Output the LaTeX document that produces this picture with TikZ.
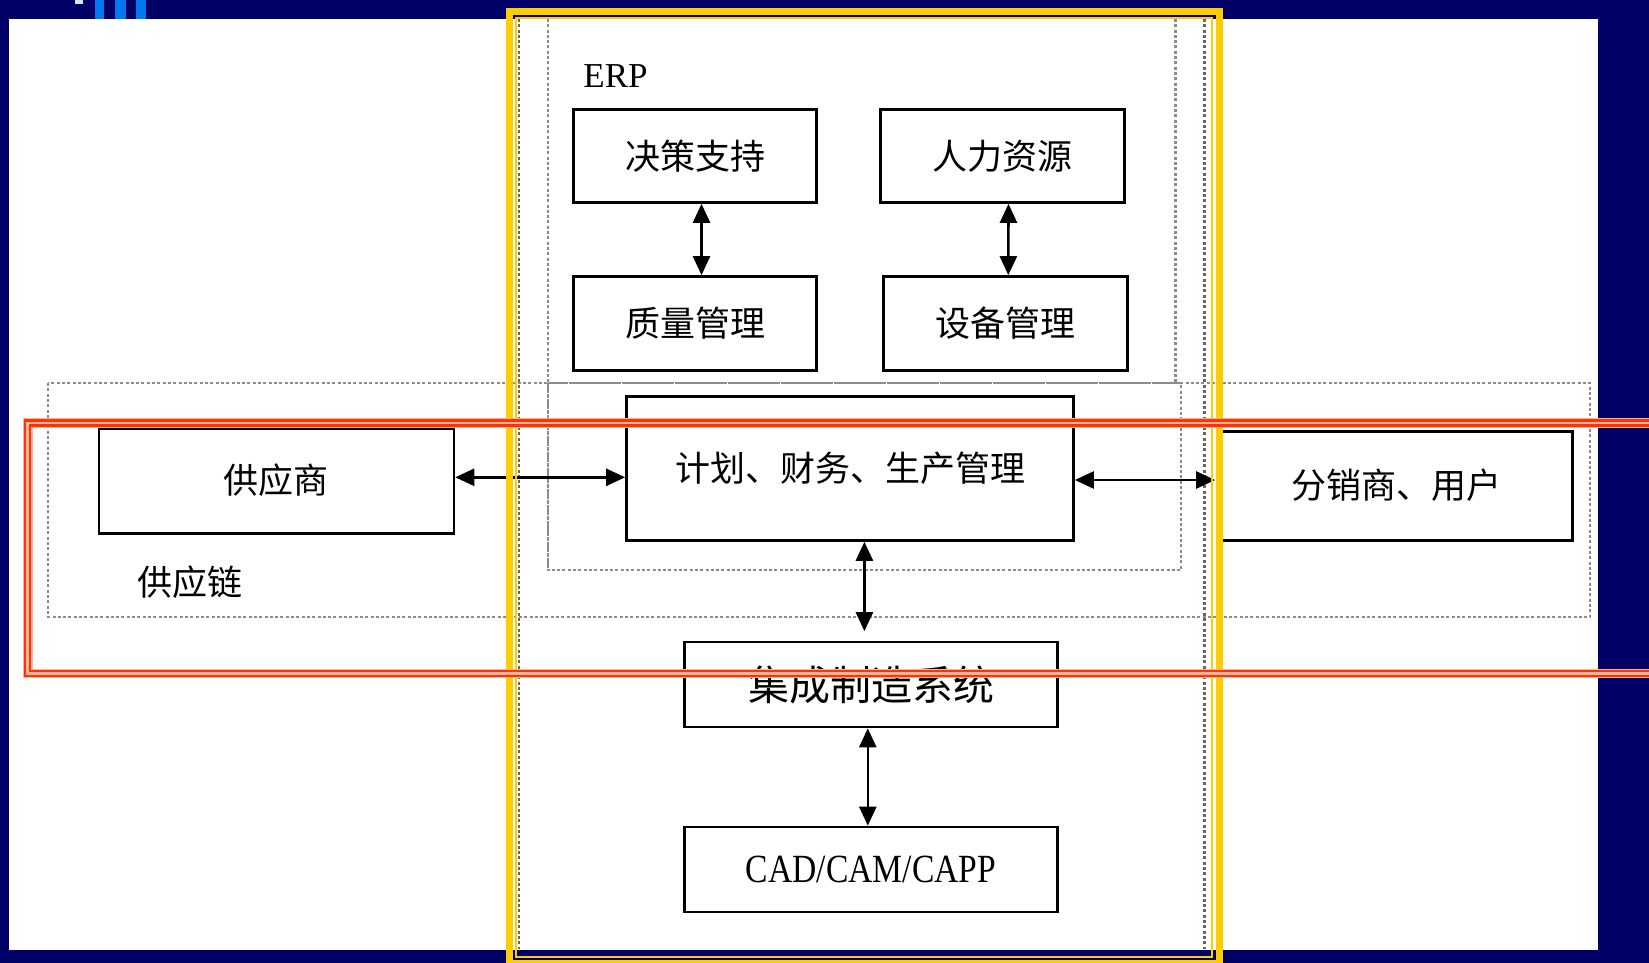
\documentclass[tikz,border=0pt]{standalone}
\usepackage{fontspec}
\setmainfont{Liberation Serif}
\newfontfamily\cjk{Noto Sans CJK SC}
\newfontfamily\narrowserif[FakeStretch=0.84]{Liberation Serif}
\usetikzlibrary{arrows.meta,calc}
\definecolor{navybg}{HTML}{000066}
\definecolor{frameyellow}{HTML}{FFCC00}
\definecolor{framered}{HTML}{FF3300}
\definecolor{redhalo}{HTML}{FFB4A0}
\definecolor{dotgray}{HTML}{8C8C8C}
\definecolor{dotdark}{HTML}{666666}
\definecolor{barblue}{HTML}{0078F0}
\definecolor{barlight}{HTML}{C8E8FF}
\begin{document}
\begin{tikzpicture}[x=1pt,y=-1pt,
  box/.style={draw=black, line width=2.7pt, inner sep=0pt, font=\cjk\fontsize{35}{40}\selectfont},
  lbl/.style={inner sep=0pt, font=\cjk\fontsize{35}{40}\selectfont},
  dotline/.style={draw=dotgray, line width=2.3pt, dash pattern=on 3pt off 2.3pt},
  dotdarkline/.style={draw=dotdark, line width=2.3pt, dash pattern=on 3pt off 2.3pt},
  arr/.style={line width=2.6pt, {Triangle[length=19pt,width=17pt]}-{Triangle[length=19pt,width=17pt]}},
  yellowthick/.style={draw=frameyellow, line width=7pt},
  yellowthin/.style={draw=frameyellow, line width=2pt},
  redhalo/.style={draw=redhalo, line width=5pt},
  redline/.style={draw=framered, line width=2.6pt}]
\useasboundingbox (0,0) rectangle (1649,963);
% background
\fill[navybg] (0,0) rectangle (1649,963);
\fill[white] (9,19) rectangle (1598,950);
% logo fragment
\fill[barlight] (75,0) rectangle (83,4);
\fill[barblue] (95,0) rectangle (104,19);
\fill[barblue] (115,0) rectangle (126,19);
\fill[barblue] (136,0) rectangle (146,19);
% dotted group boxes
\draw[dotline] (48,383) rectangle (1590,617);
\draw[dotline] (548,19) -- (548,570);
\draw[dotline] (1175.5,19) -- (1175.5,383);
\draw[dotline] (548,383) rectangle (1181,570);
\draw[dotdarkline] (519,19) -- (519,949);
\draw[dotdarkline] (1204.5,19) -- (1204.5,949);
% labels
\node[inner sep=0pt, font=\fontsize{35}{40}\selectfont] (erp) at (615.5,76.5) {ERP};
\node[lbl] (gyl) at (189.5,582.5) {供应链};
% boxes
\node[box, minimum width=243pt, minimum height=93pt] (jc) at (695,156) {决策支持};
\node[box, minimum width=244pt, minimum height=93pt] (rl) at (1002.5,156) {人力资源};
\node[box, minimum width=243pt, minimum height=94pt] (zl) at (695,323.5) {质量管理};
\node[box, minimum width=244pt, minimum height=94pt] (sb) at (1005.3,323.5) {设备管理};
\node[box, minimum width=447pt, minimum height=144pt] (jh) at (850,468.5) {计划、财务、生产管理};
\node[box, minimum width=355pt, minimum height=105pt] (gys) at (276.4,481.3) {\raisebox{6pt}{供应商}};
\node[box, minimum width=352pt, minimum height=109pt] (fx) at (1396.5,486) {\raisebox{5pt}{分销商、用户}};
\node[box, minimum width=373pt, minimum height=85pt, font=\cjk\fontsize{41}{46}\selectfont] (jcz) at (871,684.5) {\raisebox{-2pt}{集成制造系统}};
\node[box, minimum width=373pt, minimum height=85pt, font=\narrowserif\fontsize{40}{46}\selectfont] (cad) at (871,869.5) {\raisebox{-5.5pt}{CAD/CAM/CAPP}};
% connectors
\draw[arr] ([xshift=6.5pt]jc.south) -- ([xshift=6.5pt]zl.north);
\draw[arr] ([xshift=6pt]rl.south) -- ([xshift=3pt]sb.north);
\draw[arr] ([yshift=4pt]gys.east) -- ([yshift=4pt]gys.east -| jh.west);
\draw[arr, shorten >=4pt] ([yshift=-11.5pt]jh.east) -- ([yshift=-11.5pt]jh.east -| fx.west);
\draw[arr, shorten >=9.5pt] ([xshift=14.4pt]jh.south) -- ([xshift=14.4pt]jh.south |- jcz.north);
\draw[arr] ([xshift=-3.2pt]jcz.south) -- ([xshift=-3.2pt]cad.north);
% yellow double frame
\draw[yellowthick] (509,11.5) rectangle (1219.5,963.5);
\draw[yellowthin] (516,18.3) rectangle (1212.3,956.7);
% red double frame
\draw[redhalo] (1649,420.3) -- (25,420.3) -- (25,675.8) -- (1649,675.8);
\draw[redhalo] (1649,425.3) -- (30,425.3) -- (30,671) -- (1649,671);
\draw[redline] (1649,420.3) -- (25,420.3) -- (25,675.8) -- (1649,675.8);
\draw[redline] (1649,425.3) -- (30,425.3) -- (30,671) -- (1649,671);
\end{tikzpicture}
\end{document}
